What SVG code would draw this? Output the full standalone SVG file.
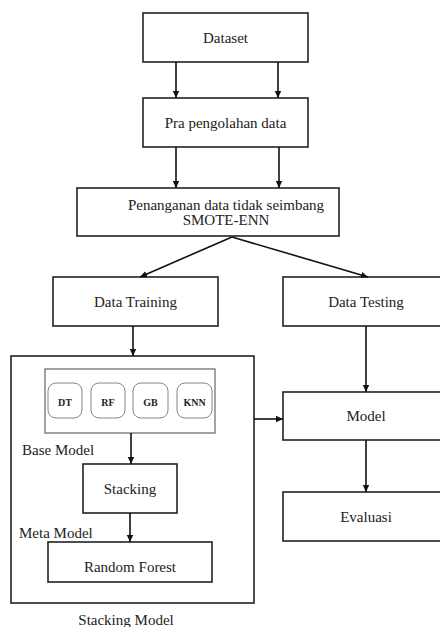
<svg xmlns="http://www.w3.org/2000/svg" width="440" height="627" viewBox="0 0 440 627">
<defs>
<marker id="ah" markerWidth="8" markerHeight="8" refX="7" refY="4" orient="auto" markerUnits="userSpaceOnUse">
<path d="M0,0.8 L7,4 L0,7.2 Z" fill="#111"/>
</marker>
<style>
.box{fill:#fff;stroke:#222;stroke-width:1.6}
.inner{fill:#fff;stroke:#666;stroke-width:1.2}
.pill{fill:#fff;stroke:#777;stroke-width:0.9}
.t{font-family:"Liberation Serif","Times New Roman",serif;font-size:15px;fill:#222;text-anchor:middle}
.tl{font-family:"Liberation Serif","Times New Roman",serif;font-size:15px;fill:#222}
.tb{font-family:"Liberation Serif","Times New Roman",serif;font-size:10px;font-weight:bold;fill:#222;text-anchor:middle}
.c{stroke:#111;stroke-width:1.6;fill:none;marker-end:url(#ah)}
</style>
</defs>
<rect width="440" height="627" fill="#fff"/>
<g id="stacking-model">
<rect class="box" x="11" y="356" width="243" height="247"/>
<text class="t" x="126" y="625">Stacking Model</text>
</g>
<g id="base-model">
<rect class="inner" x="45" y="369" width="170" height="64"/>
<text class="tl" x="22" y="455">Base Model</text>
</g>
<g id="dt"><rect class="pill" x="48" y="383" width="34" height="35" rx="8"/><text class="tb" x="65" y="405.5">DT</text></g>
<g id="rf"><rect class="pill" x="91" y="383" width="34" height="35" rx="8"/><text class="tb" x="108" y="405.5">RF</text></g>
<g id="gb"><rect class="pill" x="133" y="383" width="35" height="35" rx="8"/><text class="tb" x="150.5" y="405.5">GB</text></g>
<g id="knn"><rect class="pill" x="177" y="383" width="35" height="35" rx="8"/><text class="tb" x="194.5" y="405.5">KNN</text></g>
<g id="dataset"><rect class="box" x="143" y="13" width="165" height="49"/><text class="t" x="225.5" y="42.5">Dataset</text></g>
<g id="pra"><rect class="box" x="143" y="98" width="165" height="49"/><text class="t" x="225.5" y="127.5">Pra pengolahan data</text></g>
<g id="smote"><rect class="box" x="77" y="188" width="262" height="48"/><text class="t" x="226" y="210">Penanganan data tidak seimbang</text><text class="t" x="226" y="225">SMOTE-ENN</text></g>
<g id="training"><rect class="box" x="53" y="277" width="165" height="49"/><text class="t" x="135.5" y="307">Data Training</text></g>
<g id="testing"><rect class="box" x="283" y="277" width="166" height="49"/><text class="t" x="366" y="307">Data Testing</text></g>
<g id="model"><rect class="box" x="283" y="392" width="166" height="48"/><text class="t" x="366" y="421">Model</text></g>
<g id="evaluasi"><rect class="box" x="283" y="492" width="166" height="49"/><text class="t" x="366" y="522">Evaluasi</text></g>
<g id="stacking"><rect class="box" x="83" y="464" width="94" height="49"/><text class="t" x="130" y="494">Stacking</text></g>
<g id="random-forest"><rect class="box" x="48" y="542" width="164" height="40"/><text class="t" x="130" y="572">Random Forest</text></g>
<text class="tl" x="19" y="538">Meta Model</text>
<g id="connectors">
<line class="c" x1="176" y1="62" x2="176" y2="98"/>
<line class="c" x1="278" y1="62" x2="278" y2="98"/>
<line class="c" x1="176" y1="147" x2="176" y2="188"/>
<line class="c" x1="279" y1="147" x2="279" y2="188"/>
<line class="c" x1="232" y1="237" x2="140" y2="277"/>
<line class="c" x1="232" y1="237" x2="368" y2="277"/>
<line class="c" x1="133" y1="326" x2="133" y2="356"/>
<line class="c" x1="366" y1="326" x2="366" y2="392"/>
<line class="c" x1="254" y1="419" x2="283" y2="419"/>
<line class="c" x1="131" y1="433" x2="131" y2="464"/>
<line class="c" x1="130" y1="513" x2="130" y2="542"/>
<line class="c" x1="366" y1="440" x2="366" y2="492"/>
</g>
</svg>
